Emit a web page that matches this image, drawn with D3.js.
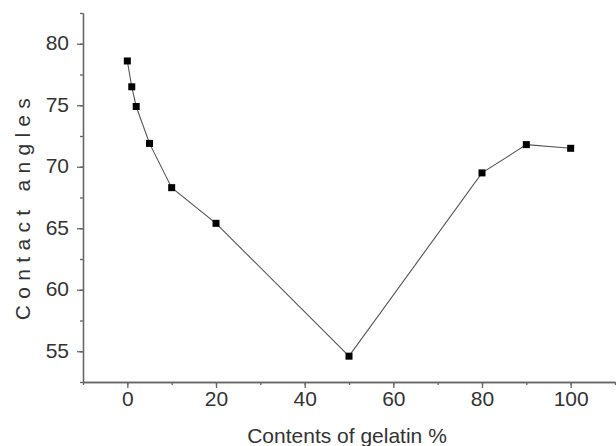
<!DOCTYPE html>
<html>
<head>
<meta charset="utf-8">
<script src="https://cdn.jsdelivr.net/npm/d3@7"></script>
<style>
  body { margin: 0; background: #fff; }
  svg text { font-family: "Liberation Sans", Arial, sans-serif; fill: #333; }
</style>
</head>
<body>
<svg id="chart" width="616" height="446"></svg>
<script>
const gelatin = [0, 1, 2, 5, 10, 20, 50, 80, 90, 100];
const angles = [78.6, 76.5, 74.9, 71.9, 68.3, 65.4, 54.6, 69.5, 71.8, 71.5];
const xTicks = [0, 20, 40, 60, 80, 100];
const yTicks = [55, 60, 65, 70, 75, 80];

const svg = d3.select('#chart');
const plotLeft = 83, plotRight = 615, plotTop = 13, plotBottom = 382;

const x = d3.scaleLinear().domain([-10, 110]).range([plotLeft, plotRight]);
const y = d3.scaleLinear().domain([52.5, 82.5]).range([plotBottom, plotTop]);

const axisColor = '#666';

// x axis: minor ticks every 10, labelled major ticks every 20
const xAxis = svg.append('g').attr('transform', 'translate(0,' + plotBottom + ')');
xAxis.call(d3.axisBottom(x).tickValues(d3.range(-10, 111, 10)).tickSize(3).tickSizeOuter(0).tickFormat(''));
xAxis.append('g').call(d3.axisBottom(x).tickValues(xTicks).tickSize(6).tickSizeOuter(0).tickFormat(d3.format('d')));
xAxis.selectAll('path, line').attr('stroke', axisColor).attr('stroke-width', 1.3);
xAxis.selectAll('text').attr('font-size', 21);

// y axis
const yAxis = svg.append('g').attr('transform', 'translate(' + plotLeft + ',0)');
yAxis.call(d3.axisLeft(y).tickValues(d3.range(52.5, 82.6, 2.5)).tickSize(3).tickSizeOuter(0).tickFormat(''));
yAxis.append('g').call(d3.axisLeft(y).tickValues(yTicks).tickSize(6).tickSizeOuter(0).tickFormat(d3.format('d')));
yAxis.selectAll('path, line').attr('stroke', axisColor).attr('stroke-width', 1.3);
yAxis.selectAll('text').attr('font-size', 21).attr('x', -14).attr('dy', '0.28em');

// line
const line = d3.line().x((d, i) => x(gelatin[i])).y(d => y(d));
svg.append('path')
  .datum(angles)
  .attr('d', line)
  .attr('fill', 'none')
  .attr('stroke', '#555')
  .attr('stroke-width', 1.1);

// markers
svg.selectAll('rect.pt')
  .data(angles)
  .enter().append('rect')
  .attr('class', 'pt')
  .attr('x', (d, i) => x(gelatin[i]) - 3.5)
  .attr('y', d => y(d) - 3.5)
  .attr('width', 7)
  .attr('height', 7)
  .attr('fill', '#000');

// labels
svg.append('text')
  .attr('x', 347).attr('y', 443)
  .attr('text-anchor', 'middle')
  .attr('font-size', 21)
  .text('Contents of gelatin %');

svg.append('text')
  .attr('transform', 'translate(30,206) rotate(-90)')
  .attr('text-anchor', 'middle')
  .attr('font-size', 21)
  .attr('letter-spacing', 6.3)
  .text('Contact angles');
</script>
</body>
</html>
